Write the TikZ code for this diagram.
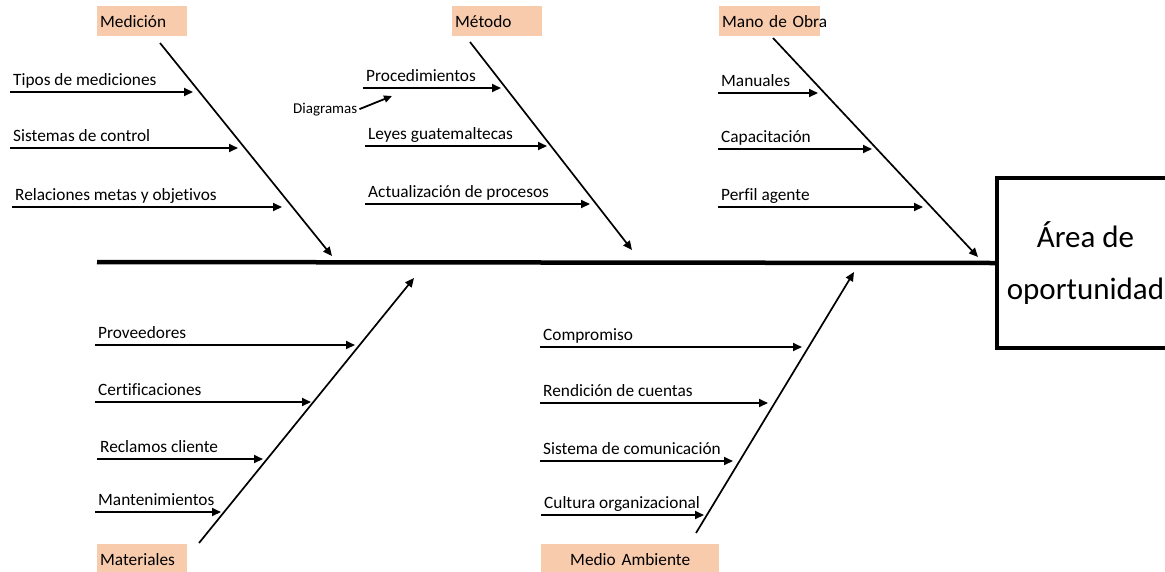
\documentclass[tikz,border=0pt]{standalone}
\usepackage{fontspec}
\setmainfont{Carlito}[Ligatures=NoCommon]
\usetikzlibrary{arrows.meta}
\definecolor{peach}{RGB}{248,203,173}
\tikzset{
    hdr/.style={fill=peach, inner sep=3pt, minimum height=30pt, anchor=north west,
                font=\fontsize{17.3}{20}\selectfont},
    cause/.style={anchor=base west, inner sep=0pt, font=\fontsize{17.3}{20}\selectfont},
    bone/.style={->, line width=1.7pt},
    twig/.style={->, line width=2pt},
    spine/.style={line width=4.5pt},
}

\begin{document}
\begin{tikzpicture}[x=1pt, y=-1pt, >={Triangle[length=9pt,width=8pt]}]
        \useasboundingbox (0,0) rectangle (1165,571);
        \node[draw, line width=4pt, minimum width=177pt, minimum height=170pt, anchor=north west,
              align=center, font=\fontsize{31}{52}\selectfont] (area) at (995,176) {Área de\\oportunidad};
        \coordinate (tail) at (97,262);
        \draw[spine] (tail) -- (area.west);
        \node[hdr, text width=84pt, align=left] (medicion) at (97,6) {Medición};
        \node[hdr, text width=84pt, align=left] (metodo) at (452,6) {Método};
        \node[hdr, text width=95pt, align=left] (manoobra) at (719,6) {\mbox{Mano de Obra}};
        \node[hdr, text width=84pt, align=left] (materiales) at (97,544) {Materiales};
        \node[hdr, text width=172pt, align=center] (medioamb) at (541,544) {Medio Ambiente};
        \foreach \n/\xa/\ya/\xb/\yb in {med/160/43/332/256, met/470/42/632/250, mob/773/38/978/257,
                                        mat/199/543/414/278, amb/696/533/854/272} {
            \coordinate (\n-s) at (\xa,\ya);
            \coordinate (\n-e) at (\xb,\yb);
            \draw[bone] (\n-s) -- (\n-e);
        }
        \foreach \n/\xa/\xb/\y/\txt in {t1/10/193/92/Tipos de mediciones,
                                         t2/10/238/148/Sistemas de control,
                                         t3/12/282/207/Relaciones metas y objetivos,
                                         p1/363/501/88/Procedimientos,
                                         p2/365/547/146/Leyes guatemaltecas,
                                         p3/365/590/204/Actualización de procesos,
                                         o1/718/818/93/Manuales,
                                         o2/718/872/149/Capacitación,
                                         o3/718/923/207/Perfil agente,
                                         a1/95/355/345/Proveedores,
                                         a2/95/311/402/Certificaciones,
                                         a3/97/263/459/Reclamos cliente,
                                         a4/95/221/512/Mantenimientos,
                                         e1/540/802/347/Compromiso,
                                         e2/540/768/403/Rendición de cuentas,
                                         e3/540/733/461/Sistema de comunicación,
                                         e4/541/704/515/Cultura organizacional} {
            \coordinate (\n-s) at (\xa,\y);
            \coordinate (\n-e) at (\xb,\y);
            \node[cause] (\n) at (\xa+3,\y-7) {\txt};
            \draw[twig] (\n-s) -- (\n-e);
        }
        \node[cause, font=\fontsize{15}{17}\selectfont] (diagramas) at (293,113) {Diagramas};
        \coordinate (diag-e) at (392,96);
        \draw[->, line width=1.8pt, >={Triangle[length=8pt,width=7pt]}] ([xshift=2pt]diagramas.east) -- (diag-e);
\end{tikzpicture}
\end{document}
